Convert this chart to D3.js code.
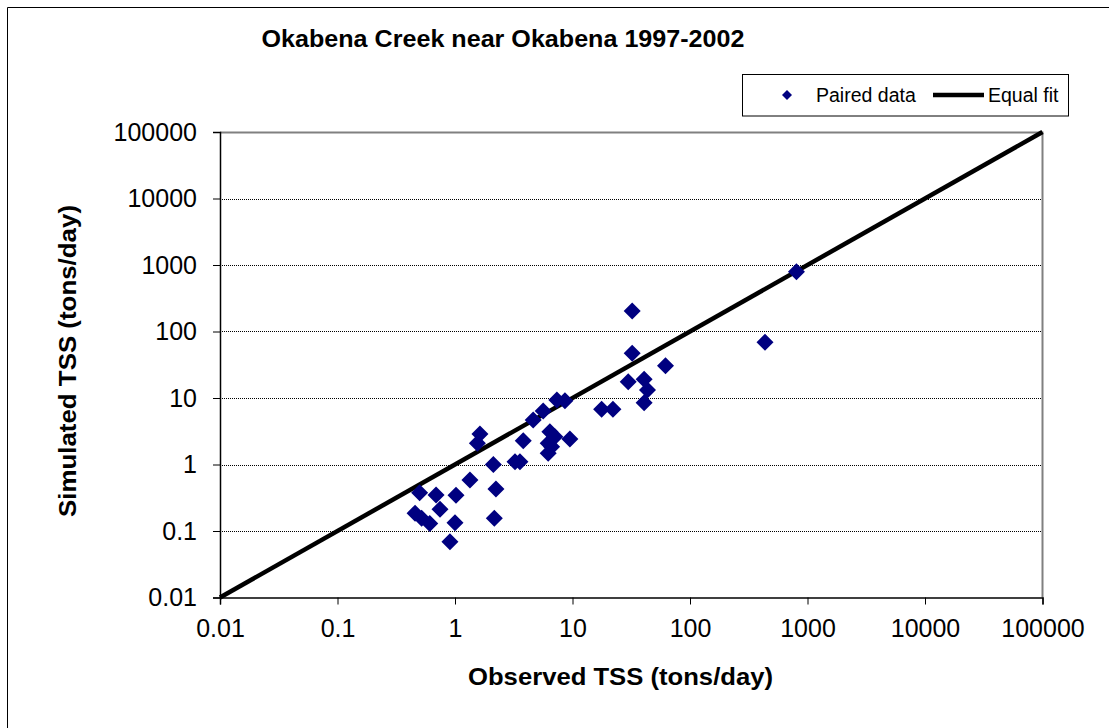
<!DOCTYPE html>
<html>
<head>
<meta charset="utf-8">
<script src="https://cdn.jsdelivr.net/npm/d3@7"></script>
<style>
  html, body { margin: 0; padding: 0; background: #fff; }
  svg { display: block; font-family: "Liberation Sans", Arial, sans-serif; }
</style>
</head>
<body>
<svg id="chart" width="1109" height="728"></svg>
<script>
// ---- data ----
const title = "Okabena Creek near Okabena 1997-2002";
const xLabel = "Observed TSS (tons/day)";
const yLabel = "Simulated TSS (tons/day)";
const tickValues = [0.01, 0.1, 1, 10, 100, 1000, 10000, 100000];
const observed = [0.50, 0.69, 1.02, 0.457, 0.52, 0.61, 0.745, 1.0, 0.906, 1.34, 2.12, 2.23, 2.16, 1.63, 1.55, 3.24, 3.57, 3.81, 4.63, 5.63, 7.36, 8.62, 6.42, 6.21, 7.08, 6.21, 6.64, 9.5, 17.7, 22.1, 32.2, 32.2, 61.9, 29.8, 40.7, 43.5, 40.7, 805, 435];
const simulated = [0.377, 0.348, 0.344, 0.185, 0.155, 0.13, 0.212, 0.133, 0.069, 0.585, 1.0, 0.428, 0.155, 2.87, 2.08, 1.1, 1.1, 2.28, 4.67, 6.38, 9.33, 9.1, 3.11, 2.08, 2.62, 1.47, 1.85, 2.42, 6.76, 6.76, 203, 47, 30.6, 17.6, 19.1, 13.2, 8.5, 793, 68.8];
const equalFit = [0.01, 100000];
const legendLabels = ["Paired data", "Equal fit"];

// ---- layout ----
const svg = d3.select("#chart");
const pLeft = 220, pRight = 1042.5, pTop = 132, pBottom = 597.5;
const x = d3.scaleLog().domain([0.01, 100000]).range([pLeft, pRight]);
const y = d3.scaleLog().domain([0.01, 100000]).range([pBottom, pTop]);
const navy = "#000080";

// outer chart border
svg.append("path")
  .attr("d", "M7.5,740 L7.5,7.5 L1120,7.5")
  .attr("fill", "none").attr("stroke", "#000").attr("stroke-width", 1);

// gridlines
svg.append("g").selectAll("line")
  .data(tickValues.filter(v => v > 0.01 && v < 100000))
  .join("line")
  .attr("x1", pLeft).attr("x2", pRight)
  .attr("y1", d => Math.round(y(d)) + 0.5).attr("y2", d => Math.round(y(d)) + 0.5)
  .attr("stroke", "#000").attr("stroke-width", 1).attr("stroke-dasharray", "1,1");

// plot-area border top/right (gray)
svg.append("path")
  .attr("d", `M${pLeft},${pTop + 0.5} L${pRight},${pTop + 0.5} L${pRight},${pBottom}`)
  .attr("fill", "none").attr("stroke", "#808080").attr("stroke-width", 2);

// axes
const fmt = d => String(d);
const gx = svg.append("g").attr("transform", `translate(0,${pBottom})`)
  .call(d3.axisBottom(x).tickValues(tickValues).tickFormat(fmt).tickSizeOuter(0).tickSize(7).tickPadding(15));
const gy = svg.append("g").attr("transform", `translate(${pLeft},0)`)
  .call(d3.axisLeft(y).tickValues(tickValues).tickFormat(fmt).tickSizeOuter(0).tickSize(7).tickPadding(16));
[gx, gy].forEach(g => {
  g.select(".domain").attr("stroke", "#000").attr("stroke-width", 1.5);
  g.selectAll(".tick line").attr("stroke", "#000").attr("stroke-width", 1);
  g.selectAll(".tick text").attr("font-size", 25).attr("fill", "#000")
    .attr("font-family", "'Liberation Sans', Arial, sans-serif");
});

// equal-fit line
svg.append("line")
  .attr("x1", x(equalFit[0])).attr("y1", y(equalFit[0]))
  .attr("x2", x(equalFit[1])).attr("y2", y(equalFit[1]))
  .attr("stroke", "#000").attr("stroke-width", 4.5).attr("stroke-linecap", "butt");

// diamonds
const diamond = r => `M0,${-r}L${r},0L0,${r}L${-r},0Z`;
svg.append("g").selectAll("path")
  .data(observed.map((o, i) => [o, simulated[i]]))
  .join("path")
  .attr("d", diamond(8.5))
  .attr("transform", d => `translate(${x(d[0])},${y(d[1])})`)
  .attr("fill", navy);

// title
svg.append("text").attr("x", 503).attr("y", 47).attr("text-anchor", "middle")
  .attr("font-size", 24).attr("font-weight", "bold")
  .attr("textLength", 483).attr("lengthAdjust", "spacingAndGlyphs").text(title);

// axis titles
svg.append("text").attr("x", 620.5).attr("y", 685).attr("text-anchor", "middle")
  .attr("font-size", 24).attr("font-weight", "bold")
  .attr("textLength", 305).attr("lengthAdjust", "spacingAndGlyphs").text(xLabel);
svg.append("text").attr("transform", "translate(76,361) rotate(-90)").attr("text-anchor", "middle")
  .attr("font-size", 24).attr("font-weight", "bold")
  .attr("textLength", 312).attr("lengthAdjust", "spacingAndGlyphs").text(yLabel);

// legend
const lg = svg.append("g");
lg.append("rect").attr("x", 742.5).attr("y", 74.5).attr("width", 326).attr("height", 41.5)
  .attr("fill", "#fff").attr("stroke", "#000").attr("stroke-width", 1);
lg.append("path").attr("d", diamond(5)).attr("transform", "translate(787,95)").attr("fill", navy);
lg.append("text").attr("x", 816).attr("y", 102).attr("font-size", 19.5).text(legendLabels[0]);
lg.append("line").attr("x1", 933).attr("x2", 984).attr("y1", 95).attr("y2", 95)
  .attr("stroke", "#000").attr("stroke-width", 4.5);
lg.append("text").attr("x", 988).attr("y", 102).attr("font-size", 19.5).text(legendLabels[1]);
</script>
</body>
</html>
